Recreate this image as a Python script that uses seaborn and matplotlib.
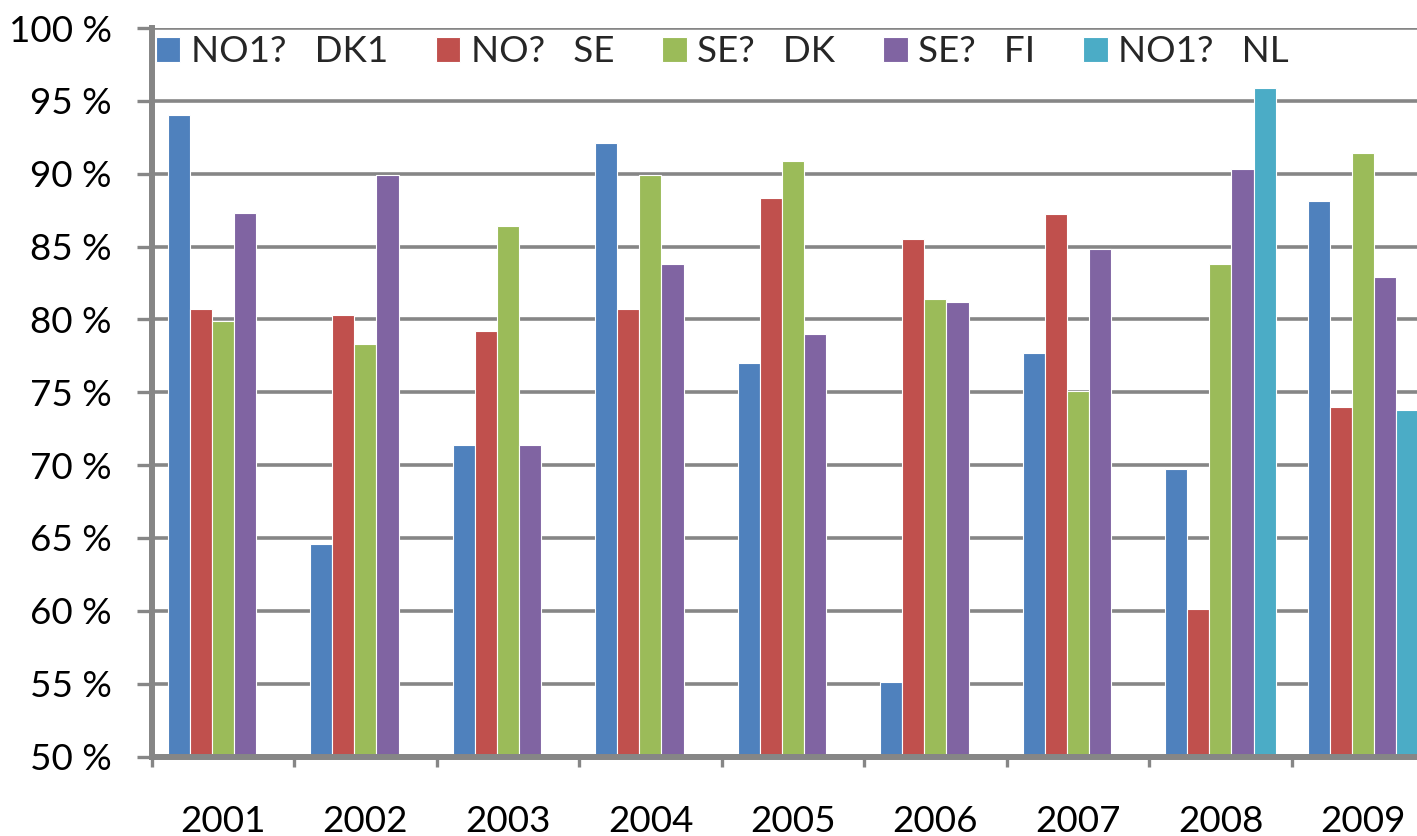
import numpy as np
import pandas as pd
import matplotlib
matplotlib.use("Agg")
import matplotlib.pyplot as plt
import seaborn as sns

years = ["2001", "2002", "2003", "2004", "2005", "2006", "2007", "2008", "2009"]
series_names = ["NO1?   DK1", "NO?   SE", "SE?   DK", "SE?   FI", "NO1?   NL"]
no1_dk1 = [94.0, 64.6, 71.4, 92.1, 77.0, 55.1, 77.7, 69.7, 88.1]
no_se = [80.7, 80.3, 79.2, 80.7, 88.3, 85.5, 87.2, 60.1, 74.0]
se_dk = [79.9, 78.3, 86.4, 89.9, 90.9, 81.4, 75.1, 83.8, 91.4]
se_fi = [87.3, 89.9, 71.4, 83.8, 79.0, 81.2, 84.8, 90.3, 82.9]
no1_nl = [np.nan, np.nan, np.nan, np.nan, np.nan, np.nan, np.nan, 95.9, 73.8]
colors = ["#4F81BD", "#C0504D", "#9BBB59", "#8064A2", "#4BACC6"]
ytick_values = [50, 55, 60, 65, 70, 75, 80, 85, 90, 95, 100]
ytick_labels = ["50 %", "55 %", "60 %", "65 %", "70 %", "75 %", "80 %", "85 %", "90 %", "95 %", "100 %"]

rows = []
for name, vals in zip(series_names, [no1_dk1, no_se, se_dk, se_fi, no1_nl]):
    for y, v in zip(years, vals):
        rows.append({"year": y, "series": name, "value": v})
df = pd.DataFrame(rows)

sns.set_style("white")
plt.rcParams["font.family"] = ["Lato", "DejaVu Sans"]

W, H = 1417, 836
fig = plt.figure(figsize=(W / 100, H / 100), dpi=100)
left_px, right_px, top_px, bottom_px = 151.7, 1434.2, 28.0, 756.5
ax = fig.add_axes([left_px / W, 1 - bottom_px / H, (right_px - left_px) / W, (bottom_px - top_px) / H])

grid_c = "#868686"
sns.barplot(data=df, x="year", y="value", hue="series", order=years, hue_order=series_names,
            palette=colors, width=0.775, errorbar=None, edgecolor="white", linewidth=0.8,
            saturation=1, ax=ax)

ax.set_ylim(50, 100)
ax.set_xlim(-0.5, len(years) - 0.5)
ax.set_yticks(ytick_values)
ax.set_yticklabels(ytick_labels)
ax.set_axisbelow(True)
ax.yaxis.grid(True, color=grid_c, linewidth=2.6)
ax.xaxis.grid(False)
ax.set_xlabel("")
ax.set_ylabel("")

for s in ["top", "right"]:
    ax.spines[s].set_visible(False)
for s in ["left", "bottom"]:
    ax.spines[s].set_color(grid_c)
    ax.spines[s].set_linewidth(4.3)

ax.tick_params(axis="y", which="major", direction="out", length=10.8, width=2.4, color=grid_c,
               pad=18, labelsize=26.5, labelcolor="black", left=True)
ax.set_xticks(np.arange(len(years)))
ax.set_xticklabels(years)
ax.set_xticks(np.arange(-0.5, len(years) + 0.5, 1), minor=True)
ax.tick_params(axis="x", which="major", length=0, pad=35, labelsize=26.5, labelcolor="black")
ax.tick_params(axis="x", which="minor", direction="out", length=7.5, width=2.4, color=grid_c, bottom=True)

leg = ax.get_legend()
handles = leg.legend_handles
labels = [t.get_text() for t in leg.get_texts()]
leg.remove()
ax.legend(handles, labels, ncol=5, frameon=False, loc="center left",
          bbox_to_anchor=(156 / W, 1 - 52 / H), bbox_transform=fig.transFigure,
          borderaxespad=0, borderpad=0, handlelength=0.66, handleheight=0.66,
          handletextpad=0.29, columnspacing=1.3, fontsize=26.5)

fig.savefig("out.png", dpi=100)
